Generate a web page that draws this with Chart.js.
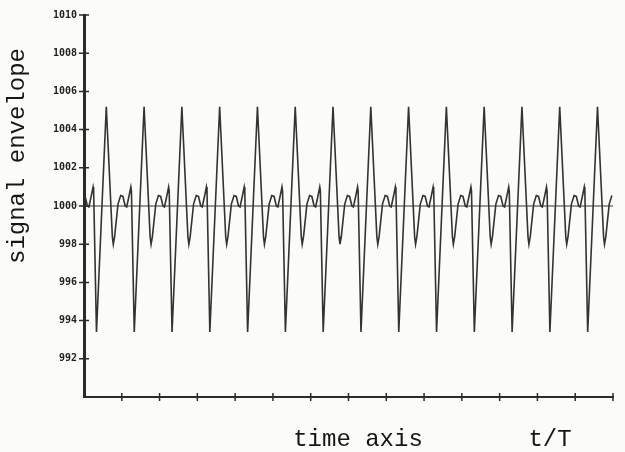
<!DOCTYPE html>
<html>
<head>
<meta charset="utf-8">
<script src="https://cdn.jsdelivr.net/npm/chart.js@4"></script>
<style>
  html, body { margin: 0; padding: 0; background: #fbfbf9; }
  #wrap { width: 625px; height: 452px; position: relative; }
</style>
</head>
<body>
<div id="wrap"><canvas id="envChart" width="625" height="452"></canvas></div>
<script>
// time in units of t/T, one row per period
const time = [
  0.03, 0.09, 0.13, 0.20, 0.24, 0.255, 0.33, 0.59, 0.75, 0.775, 0.81, 0.90, 0.97,
  1.03, 1.09, 1.13, 1.20, 1.24, 1.255, 1.33, 1.59, 1.75, 1.775, 1.81, 1.90, 1.97,
  2.03, 2.09, 2.13, 2.20, 2.24, 2.255, 2.33, 2.59, 2.75, 2.775, 2.81, 2.90, 2.97,
  3.03, 3.09, 3.13, 3.20, 3.24, 3.255, 3.33, 3.59, 3.75, 3.775, 3.81, 3.90, 3.97,
  4.03, 4.09, 4.13, 4.20, 4.24, 4.255, 4.33, 4.59, 4.75, 4.775, 4.81, 4.90, 4.97,
  5.03, 5.09, 5.13, 5.20, 5.24, 5.255, 5.33, 5.59, 5.75, 5.775, 5.81, 5.90, 5.97,
  6.03, 6.09, 6.13, 6.20, 6.24, 6.255, 6.33, 6.59, 6.75, 6.775, 6.81, 6.90, 6.97,
  7.03, 7.09, 7.13, 7.20, 7.24, 7.255, 7.33, 7.59, 7.75, 7.775, 7.81, 7.90, 7.97,
  8.03, 8.09, 8.13, 8.20, 8.24, 8.255, 8.33, 8.59, 8.75, 8.775, 8.81, 8.90, 8.97,
  9.03, 9.09, 9.13, 9.20, 9.24, 9.255, 9.33, 9.59, 9.75, 9.775, 9.81, 9.90, 9.97,
  10.03, 10.09, 10.13, 10.20, 10.24, 10.255, 10.33, 10.59, 10.75, 10.775, 10.81, 10.90, 10.97,
  11.03, 11.09, 11.13, 11.20, 11.24, 11.255, 11.33, 11.59, 11.75, 11.775, 11.81, 11.90, 11.97,
  12.03, 12.09, 12.13, 12.20, 12.24, 12.255, 12.33, 12.59, 12.75, 12.775, 12.81, 12.90, 12.97,
  13.03, 13.09, 13.13, 13.20, 13.24, 13.255, 13.33, 13.59, 13.75, 13.775, 13.81, 13.90, 13.97
];

const envelope = [
  1000.5, 1000.0, 999.95, 1000.6, 1001.0, 1000.8, 993.4, 1005.2, 998.4, 998.0, 998.4, 1000.1, 1000.55,
  1000.5, 1000.0, 999.95, 1000.6, 1001.0, 1000.8, 993.4, 1005.2, 998.4, 998.0, 998.4, 1000.1, 1000.55,
  1000.5, 1000.0, 999.95, 1000.6, 1001.0, 1000.8, 993.4, 1005.2, 998.4, 998.0, 998.4, 1000.1, 1000.55,
  1000.5, 1000.0, 999.95, 1000.6, 1001.0, 1000.8, 993.4, 1005.2, 998.4, 998.0, 998.4, 1000.1, 1000.55,
  1000.5, 1000.0, 999.95, 1000.6, 1001.0, 1000.8, 993.4, 1005.2, 998.4, 998.0, 998.4, 1000.1, 1000.55,
  1000.5, 1000.0, 999.95, 1000.6, 1001.0, 1000.8, 993.4, 1005.2, 998.4, 998.0, 998.4, 1000.1, 1000.55,
  1000.5, 1000.0, 999.95, 1000.6, 1001.0, 1000.8, 993.4, 1005.2, 998.4, 998.0, 998.4, 1000.1, 1000.55,
  1000.5, 1000.0, 999.95, 1000.6, 1001.0, 1000.8, 993.4, 1005.2, 998.4, 998.0, 998.4, 1000.1, 1000.55,
  1000.5, 1000.0, 999.95, 1000.6, 1001.0, 1000.8, 993.4, 1005.2, 998.4, 998.0, 998.4, 1000.1, 1000.55,
  1000.5, 1000.0, 999.95, 1000.6, 1001.0, 1000.8, 993.4, 1005.2, 998.4, 998.0, 998.4, 1000.1, 1000.55,
  1000.5, 1000.0, 999.95, 1000.6, 1001.0, 1000.8, 993.4, 1005.2, 998.4, 998.0, 998.4, 1000.1, 1000.55,
  1000.5, 1000.0, 999.95, 1000.6, 1001.0, 1000.8, 993.4, 1005.2, 998.4, 998.0, 998.4, 1000.1, 1000.55,
  1000.5, 1000.0, 999.95, 1000.6, 1001.0, 1000.8, 993.4, 1005.2, 998.4, 998.0, 998.4, 1000.1, 1000.55,
  1000.5, 1000.0, 999.95, 1000.6, 1001.0, 1000.8, 993.4, 1005.2, 998.4, 998.0, 998.4, 1000.1, 1000.55
];

// reference level
const refTime = [0, 14];
const refLevel = [1000, 1000];

const yTicks = [992, 994, 996, 998, 1000, 1002, 1004, 1006, 1008, 1010];
const xTicks = [1, 2, 3, 4, 5, 6, 7, 8, 9, 10, 11, 12, 13, 14];

const ink = '#2b2b2b';

// little tick crosses on both axes + the typed axis labels
const axisDecor = {
    id: 'axisDecor',
    afterDraw(chart) {
        let ctx = chart.ctx;
        let xs = chart.scales.x, ys = chart.scales.y;
        let area = chart.chartArea;
        ctx.save();
        ctx.strokeStyle = ink;
        ctx.lineWidth = 1.5;
        ctx.beginPath();
        yTicks.forEach(v => {
            let py = ys.getPixelForValue(v);
            ctx.moveTo(area.left - 5, py);
            ctx.lineTo(area.left + 5, py);
        });
        xTicks.forEach(v => {
            let px = xs.getPixelForValue(v);
            ctx.moveTo(px, area.bottom - 4);
            ctx.lineTo(px, area.bottom + 4);
        });
        ctx.stroke();

        ctx.fillStyle = '#161616';
        ctx.font = '24px "Liberation Mono", "DejaVu Sans Mono", monospace';
        ctx.textAlign = 'center';
        ctx.textBaseline = 'middle';
        ctx.fillText('time axis', 358, 440);
        ctx.fillText('t/T', 550, 440);

        ctx.translate(18, 156);
        ctx.rotate(-Math.PI / 2);
        ctx.fillText('signal envelope', 0, 0);
        ctx.restore();
    }
};

new Chart(document.getElementById('envChart').getContext('2d'), {
    type: 'line',
    data: {
        datasets: [
            {
                label: 'envelope',
                data: time.map((t, i) => ({ x: t, y: envelope[i] })),
                borderColor: '#333333',
                borderWidth: 1.6,
                tension: 0,
                pointRadius: 0,
                fill: false
            },
            {
                label: 'reference',
                data: refTime.map((t, i) => ({ x: t, y: refLevel[i] })),
                borderColor: '#3d342c',
                borderWidth: 1.2,
                pointRadius: 0,
                fill: false
            }
        ]
    },
    options: {
        responsive: false,
        animation: false,
        layout: { padding: { top: 15, right: 12, bottom: 55, left: 0 } },
        plugins: { legend: { display: false }, tooltip: { enabled: false } },
        scales: {
            x: {
                type: 'linear',
                min: 0,
                max: 14,
                grid: { display: false, drawTicks: false },
                border: { display: true, color: ink, width: 2 },
                ticks: { display: false, stepSize: 1 },
                afterFit: s => { s.height = 0; }
            },
            y: {
                min: 990,
                max: 1010,
                grid: { display: false, drawTicks: false },
                border: { display: true, color: ink, width: 3 },
                ticks: {
                    stepSize: 2,
                    padding: 7,
                    color: '#222',
                    font: { family: '"DejaVu Sans Mono", monospace', size: 10, weight: 'bold' },
                    callback: v => (v === 990 ? '' : v)
                },
                afterFit: s => { s.width = 84; }
            }
        }
    },
    plugins: [axisDecor]
});
</script>
</body>
</html>
